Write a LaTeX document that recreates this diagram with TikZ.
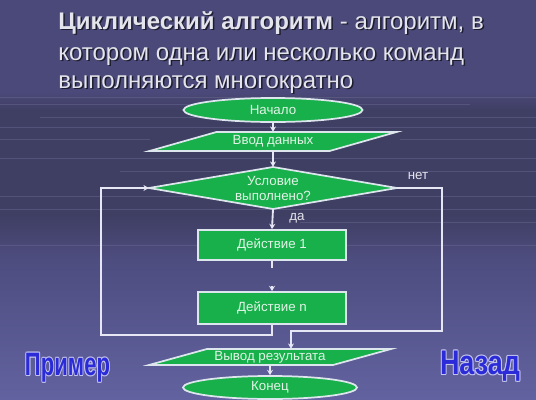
\documentclass[tikz,border=0pt]{standalone}
\usepackage{fontspec}
\setmainfont{Liberation Sans}
\usetikzlibrary{shapes.geometric,arrows.meta}
\definecolor{bgtop}{HTML}{4B4979}
\definecolor{bgdark}{HTML}{3F3E63}
\definecolor{bgmid}{HTML}{4E4D80}
\definecolor{bgbot}{HTML}{6262A0}
\definecolor{streak}{HTML}{6C6C92}
\definecolor{shapegreen}{HTML}{17B04B}
\definecolor{edgec}{HTML}{DCE6EC}
\definecolor{linec}{HTML}{E6E6F4}
\definecolor{shapetext}{HTML}{E2F4E6}
\definecolor{titlec}{HTML}{E4E4EC}
\definecolor{shadowc}{HTML}{1C1C2E}
\definecolor{btnblue}{HTML}{2B2BD8}
\definecolor{btnedge}{HTML}{C4C4EE}
\newcommand\outl[3]{\leavevmode
  \rlap{\color{#1}\kern-0.5pt\raise0.5pt\hbox{#3}}%
  \rlap{\color{#1}\kern0.5pt\raise0.5pt\hbox{#3}}%
  \rlap{\color{#1}\kern-0.5pt\raise-0.5pt\hbox{#3}}%
  \rlap{\color{#1}\kern0.5pt\raise-0.5pt\hbox{#3}}%
  \rlap{\color{#1}\kern-0.7pt\hbox{#3}}%
  \rlap{\color{#1}\kern0.7pt\hbox{#3}}%
  {\color{#2}#3}}
\begin{document}
\begin{tikzpicture}[x=0.75pt,y=-0.75pt,
  shapebox/.style={fill=shapegreen,draw=edgec,line width=1.3pt},
  shapelabel/.style={inner sep=0pt,text=shapetext,font=\fontsize{10}{11.25}\selectfont,align=center},
  conn/.style={draw=linec,line width=1.4pt},
  arr/.style={conn,-{Stealth[length=4pt,width=4.5pt]}},
  titletext/.style={inner sep=0pt,anchor=base west,text=titlec,font=\fontsize{18}{20}\selectfont},
  titleshadow/.style={titletext,text=shadowc},
  smalllabel/.style={inner sep=0pt,text=titlec,font=\fontsize{10}{11}\selectfont},
  btn/.style={inner sep=0pt,font=\bfseries\fontsize{20}{22}\selectfont}
]
\useasboundingbox (0,0) rectangle (536,400);
% background
\fill[top color=bgtop,bottom color=bgtop] (0,0) rectangle (536,92);
\fill[top color=bgtop,bottom color=bgdark] (0,92) rectangle (536,110);
\fill[bgdark] (0,110) rectangle (536,215);
\fill[top color=bgdark,bottom color=bgmid] (0,215) rectangle (536,260);
\fill[top color=bgmid,bottom color=bgbot] (0,260) rectangle (536,400);
\foreach \yy/\xa/\xb in {97/0/536,104/0/470,117/40/536,127/0/536,139/0/150,139/400/536,158/0/536,171/120/536,196/0/536,209/0/536,222/300/536,245/0/536}{
  \draw[streak,opacity=0.45,line width=0.6pt] (\xa,\yy) -- (\xb,\yy);
}
% title
\node[titleshadow] (t1s) at (59.5,30.5) {\textbf{Циклический алгоритм} - алгоритм, в};
\node[titletext] (t1) at (58,29) {\textbf{Циклический алгоритм} - алгоритм, в};
\node[titleshadow] (t2s) at (59.5,61.5) {котором одна или несколько команд};
\node[titletext] (t2) at (58,60) {котором одна или несколько команд};
\node[titleshadow] (t3s) at (59.5,89.5) {выполняются многократно};
\node[titletext] (t3) at (58,88) {выполняются многократно};
% shapes
\node[ellipse,shapebox,shapelabel,minimum width=179*0.75pt,minimum height=24*0.75pt] (start) at (273,110) {Начало};
\draw[shapebox] (216.5,132) -- (396.5,132) -- (329.5,151) -- (149.5,151) -- cycle;
\node[shapelabel,minimum width=180*0.75pt,minimum height=19*0.75pt] (input) at (273,141.5) {Ввод данных};
\draw[shapebox] (149,188) -- (273,167) -- (397,188) -- (273,209) -- cycle;
\node[shapelabel,minimum width=248*0.75pt,minimum height=42*0.75pt] (cond) at (273,188) {Условие\\выполнено?};
\node[shapebox,shapelabel,minimum width=148*0.75pt,minimum height=30*0.75pt] (act1) at (272,245) {Действие 1};
\node[shapebox,shapelabel,minimum width=148*0.75pt,minimum height=32*0.75pt] (actn) at (272,308) {Действие n};
\draw[shapebox] (207,349) -- (391,349) -- (333,365) -- (149,365) -- cycle;
\node[shapelabel,minimum width=184*0.75pt,minimum height=16*0.75pt] (output) at (270,357) {Вывод результата};
\node[ellipse,shapebox,shapelabel,minimum width=174*0.75pt,minimum height=23*0.75pt] (finish) at (270,387.5) {Конец};
% labels
\node[smalllabel] (yes) at (297,218) {да};
\node[smalllabel] (no) at (418,176) {нет};
% connectors
\coordinate (gapA) at (272,268);
\coordinate (gapB) at (272,286);
\coordinate (loopL) at (101,335);
\coordinate (loopR) at (442,331);
\coordinate (rx) at (291,331);
\draw[arr] (start.south) -- (input.north);
\draw[arr] (input.south) -- (cond.north);
\draw[arr] (cond.south) -- (act1.north);
\draw[conn] (act1.south) -- (gapA);
\draw[arr] (gapB) -- (actn.north);
\draw[arr] (actn.south) |- (loopL) |- (cond.west);
\draw[arr] (cond.east) -| (loopR) -| (rx |- output.north);
\draw[arr] (output.south) -- (finish.north);
% buttons
\node[btn] (primer) at (67.5,367.5) {\resizebox*{63.75pt}{23pt}{\outl{btnedge}{btnblue}{Пример}}};
\node[btn] (nazad) at (480,366) {\resizebox*{60pt}{24pt}{\outl{btnedge}{btnblue}{Назад}}};
\end{tikzpicture}
\end{document}
